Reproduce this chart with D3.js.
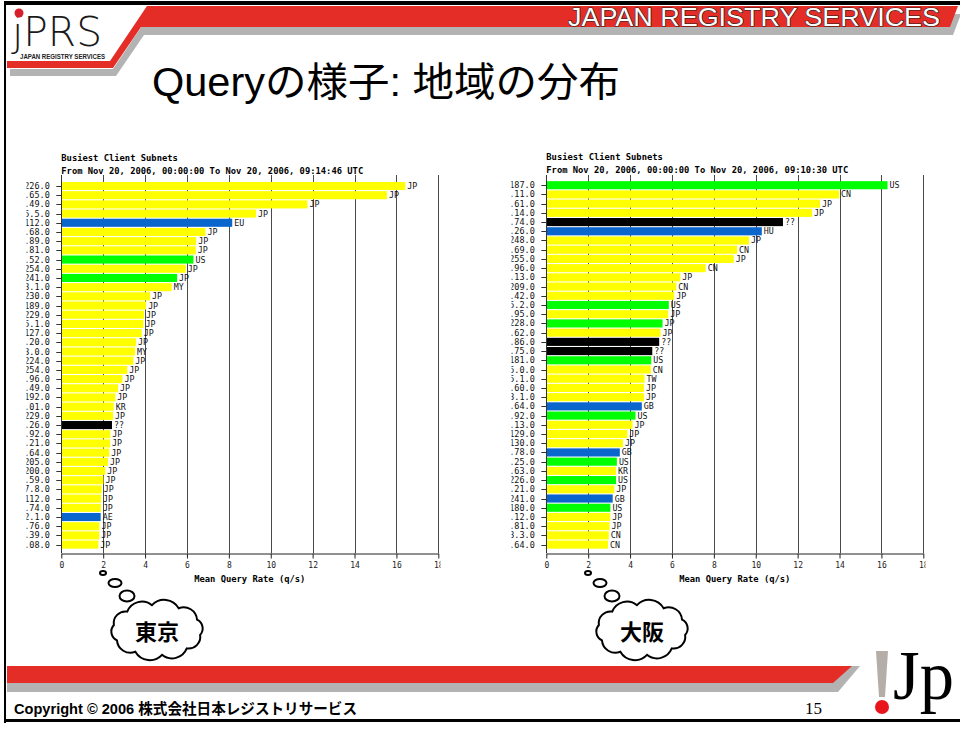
<!DOCTYPE html>
<html>
<head>
<meta charset="utf-8">
<script src="https://cdn.jsdelivr.net/npm/d3@7"></script>
<style>
  html, body { margin: 0; padding: 0; background: #fff; }
  svg { display: block; }
  .mono { font-family: "DejaVu Sans Mono", "Liberation Mono", monospace; }
</style>
</head>
<body>
<svg id="slide" width="960" height="731"></svg>
<script>
(function () {
    'use strict';

    // ---- data: Tokyo (left chart) ----
    const tokyoSubnets = ['226.0', '.65.0', '.49.0', '5.5.0', '112.0', '.68.0', '.89.0', '.81.0', '.52.0', '254.0',
        '241.0', '3.1.0', '230.0', '189.0', '229.0', '5.1.0', '127.0', '.20.0', '3.0.0', '224.0',
        '254.0', '.96.0', '.49.0', '192.0', '.01.0', '229.0', '.26.0', '.92.0', '.21.0', '.64.0',
        '205.0', '200.0', '.59.0', '7.8.0', '112.0', '.74.0', '2.1.0', '.76.0', '.39.0', '.08.0'];
    const tokyoRates = [16.42, 15.55, 11.75, 9.30, 8.16, 6.88, 6.44, 6.42, 6.31, 5.94,
        5.53, 5.27, 4.24, 4.05, 3.95, 3.92, 3.84, 3.57, 3.52, 3.44,
        3.15, 2.92, 2.71, 2.58, 2.50, 2.47, 2.42, 2.34, 2.33, 2.29,
        2.23, 2.10, 2.01, 1.93, 1.90, 1.89, 1.88, 1.82, 1.81, 1.77];
    const tokyoCountries = ['JP', 'JP', 'JP', 'JP', 'EU', 'JP', 'JP', 'JP', 'US', 'JP',
        'JP', 'MY', 'JP', 'JP', 'JP', 'JP', 'JP', 'JP', 'MY', 'JP',
        'JP', 'JP', 'JP', 'JP', 'KR', 'JP', '??', 'JP', 'JP', 'JP',
        'JP', 'JP', 'JP', 'JP', 'JP', 'JP', 'AE', 'JP', 'JP', 'JP'];
    const tokyoRegistries = ['APNIC', 'APNIC', 'APNIC', 'APNIC', 'RIPE', 'APNIC', 'APNIC', 'APNIC', 'ARIN', 'APNIC',
        'ARIN', 'APNIC', 'APNIC', 'APNIC', 'APNIC', 'APNIC', 'APNIC', 'APNIC', 'APNIC', 'APNIC',
        'APNIC', 'APNIC', 'APNIC', 'APNIC', 'APNIC', 'APNIC', '??', 'APNIC', 'APNIC', 'APNIC',
        'APNIC', 'APNIC', 'APNIC', 'APNIC', 'APNIC', 'APNIC', 'RIPE', 'APNIC', 'APNIC', 'APNIC'];

    // ---- data: Osaka (right chart) ----
    const osakaSubnets = ['187.0', '.11.0', '.61.0', '.14.0', '.74.0', '.26.0', '248.0', '.69.0', '255.0', '.96.0',
        '.13.0', '209.0', '.42.0', '5.2.0', '.95.0', '228.0', '.62.0', '.86.0', '.75.0', '181.0',
        '5.0.0', '5.1.0', '.60.0', '3.1.0', '.64.0', '.92.0', '.13.0', '129.0', '130.0', '.78.0',
        '.25.0', '.63.0', '226.0', '.21.0', '241.0', '180.0', '.12.0', '.81.0', '3.3.0', '.64.0'];
    const osakaRates = [16.29, 13.98, 13.07, 12.69, 11.30, 10.29, 9.68, 9.11, 8.95, 7.61,
        6.40, 6.21, 6.11, 5.85, 5.82, 5.55, 5.45, 5.39, 5.06, 5.01,
        4.99, 4.69, 4.66, 4.66, 4.56, 4.26, 4.12, 3.87, 3.66, 3.51,
        3.37, 3.33, 3.33, 3.25, 3.17, 3.06, 3.05, 3.02, 2.98, 2.95];
    const osakaCountries = ['US', 'CN', 'JP', 'JP', '??', 'HU', 'JP', 'CN', 'JP', 'CN',
        'JP', 'CN', 'JP', 'US', 'JP', 'JP', 'JP', '??', '??', 'US',
        'CN', 'TW', 'JP', 'JP', 'GB', 'US', 'JP', 'JP', 'JP', 'GB',
        'US', 'KR', 'US', 'JP', 'GB', 'US', 'JP', 'JP', 'CN', 'CN'];
    const osakaRegistries = ['ARIN', 'APNIC', 'APNIC', 'APNIC', '??', 'RIPE', 'APNIC', 'APNIC', 'APNIC', 'APNIC',
        'APNIC', 'APNIC', 'APNIC', 'ARIN', 'APNIC', 'ARIN', 'APNIC', '??', '??', 'ARIN',
        'APNIC', 'APNIC', 'APNIC', 'APNIC', 'RIPE', 'ARIN', 'APNIC', 'APNIC', 'APNIC', 'RIPE',
        'ARIN', 'APNIC', 'ARIN', 'APNIC', 'RIPE', 'ARIN', 'APNIC', 'APNIC', 'APNIC', 'APNIC'];

    const xTicks = [0, 2, 4, 6, 8, 10, 12, 14, 16, 18];

    const registryColor = d3.scaleOrdinal()
        .domain(['APNIC', 'ARIN', 'RIPE', '??'])
        .range(['#ffff00', '#00ff00', '#0a66cc', '#000000']);

    const svg = d3.select('#slide');
    const defs = svg.append('defs');

    // ---- slide frame and header ----
    svg.append('rect').attr('x', 4).attr('y', 1).attr('width', 956).attr('height', 4).attr('fill', '#000');
    svg.append('rect').attr('x', 4).attr('y', 1).attr('width', 2).attr('height', 722).attr('fill', '#000');
    svg.append('rect').attr('x', 4).attr('y', 719).attr('width', 956).attr('height', 3).attr('fill', '#000');

    const header = [[147, 6], [958, 6], [950, 27], [141, 27], [113, 68], [7, 68], [7, 61], [110, 61]];
    svg.append('polygon')
        .attr('points', header.map(p => [p[0] + 3, p[1] + 8]).join(' '))
        .attr('fill', '#b3b3b3');
    svg.append('polygon')
        .attr('points', header.join(' '))
        .attr('fill', '#e52d27');

    svg.append('text')
        .attr('x', 568).attr('y', 26)
        .attr('textLength', 372).attr('lengthAdjust', 'spacingAndGlyphs')
        .style('font-family', '"Liberation Sans", Arial, sans-serif')
        .style('font-size', '25px')
        .attr('fill', '#fff').attr('stroke', '#222').attr('stroke-width', 1.2)
        .attr('paint-order', 'stroke')
        .text('JAPAN REGISTRY SERVICES');

    // logo
    svg.append('text')
        .attr('x', 12).attr('y', 46)
        .attr('textLength', 90).attr('lengthAdjust', 'spacingAndGlyphs')
        .style('font-family', '"DejaVu Sans", sans-serif')
        .style('font-size', '40px').style('font-weight', 200)
        .attr('fill', '#1a1a1a')
        .text('jPRS');
    svg.append('circle').attr('cx', 19).attr('cy', 13).attr('r', 4.5).attr('fill', '#d6202a');
    svg.append('rect').attr('x', 18).attr('y', 52).attr('width', 89).attr('height', 8).attr('fill', '#fff');
    svg.append('text')
        .attr('x', 20).attr('y', 58.5)
        .attr('textLength', 85).attr('lengthAdjust', 'spacingAndGlyphs')
        .style('font-family', '"Liberation Sans", sans-serif')
        .style('font-size', '6.3px').style('font-weight', 'bold')
        .attr('fill', '#222')
        .text('JAPAN REGISTRY SERVICES');

    // title
    svg.append('text')
        .attr('x', 152).attr('y', 96)
        .attr('textLength', 468).attr('lengthAdjust', 'spacingAndGlyphs')
        .style('font-family', '"Liberation Sans", "Noto Sans CJK JP", sans-serif')
        .style('font-size', '40px')
        .attr('fill', '#000')
        .text('Queryの様子: 地域の分布');

    // ---- charts ----
    const drawChart = (opt) => {
        const clipId = 'clip-' + opt.id;
        defs.append('clipPath').attr('id', clipId)
            .append('rect')
            .attr('x', opt.clipLeft).attr('y', 140)
            .attr('width', opt.clipRight - opt.clipLeft).attr('height', 460);

        const g = svg.append('g').attr('clip-path', `url(#${clipId})`);

        const x = d3.scaleLinear()
            .domain([0, 18])
            .range([opt.x0, opt.x0 + 377]);

        const y = d3.scaleBand()
            .domain(d3.range(opt.rates.length))
            .range([opt.barTop, opt.barBottom])
            .paddingInner(0.12)
            .paddingOuter(0.06);

        const gridTop = 175;
        const axisY = 553;

        g.append('text').attr('class', 'mono')
            .attr('x', opt.x0).attr('y', opt.titleY)
            .style('font-size', '8.8px').style('font-weight', 'bold')
            .text('Busiest Client Subnets');
        g.append('text').attr('class', 'mono')
            .attr('x', opt.x0).attr('y', opt.titleY + 12.5)
            .style('font-size', '8.8px').style('font-weight', 'bold')
            .text(opt.period);

        // grid
        g.append('g').selectAll('line')
            .data(xTicks.filter(t => t > 0))
            .join('line')
            .attr('x1', d => Math.round(x(d)) + 0.5).attr('x2', d => Math.round(x(d)) + 0.5)
            .attr('y1', gridTop).attr('y2', axisY)
            .attr('stroke', '#4a4a4a').attr('stroke-width', 1);

        // bars
        g.append('g').selectAll('rect')
            .data(opt.rates)
            .join('rect')
            .attr('x', x(0))
            .attr('y', (d, i) => y(i))
            .attr('width', d => x(d) - x(0))
            .attr('height', y.bandwidth())
            .attr('fill', (d, i) => registryColor(opt.registries[i]));

        // country labels
        g.append('g').selectAll('text')
            .data(opt.rates)
            .join('text')
            .attr('class', 'mono')
            .attr('x', d => x(d) + 2)
            .attr('y', (d, i) => y(i) + y.bandwidth() / 2 + 3)
            .style('font-size', '8.3px')
            .attr('fill', '#111')
            .text((d, i) => opt.countries[i]);

        // left axis: vertical line, tick marks and subnet labels
        g.append('line')
            .attr('x1', Math.round(x(0)) + 0.5).attr('x2', Math.round(x(0)) + 0.5)
            .attr('y1', gridTop).attr('y2', axisY)
            .attr('stroke', '#333');
        g.append('g').selectAll('line')
            .data(opt.rates)
            .join('line')
            .attr('x1', x(0) - 5).attr('x2', x(0))
            .attr('y1', (d, i) => Math.round(y(i) + y.bandwidth() / 2) + 0.5)
            .attr('y2', (d, i) => Math.round(y(i) + y.bandwidth() / 2) + 0.5)
            .attr('stroke', '#333');
        g.append('g').selectAll('text')
            .data(opt.subnets)
            .join('text')
            .attr('class', 'mono')
            .attr('x', x(0) - 11.5)
            .attr('y', (d, i) => y(i) + y.bandwidth() / 2 + 3)
            .attr('text-anchor', 'end')
            .style('font-size', '8.5px')
            .attr('fill', '#111')
            .text(d => d);

        // bottom axis
        const axis = g.append('g')
            .attr('transform', `translate(0,${axisY + 0.5})`)
            .call(d3.axisBottom(x).tickValues(xTicks).tickSize(5).tickSizeOuter(0).tickFormat(d3.format('d')));
        axis.select('.domain').attr('stroke', '#222');
        axis.selectAll('.tick line').attr('stroke', '#222');
        axis.selectAll('.tick text')
            .attr('class', 'mono')
            .attr('y', 9)
            .style('font-size', '8px')
            .attr('fill', '#222');

        g.append('text').attr('class', 'mono')
            .attr('x', (x(0) + x(18)) / 2).attr('y', 582)
            .attr('text-anchor', 'middle')
            .style('font-size', '8.8px').style('font-weight', 'bold')
            .text('Mean Query Rate (q/s)');
    };

    drawChart({
        id: 'tokyo', x0: 61.3, barTop: 181.4, barBottom: 549.2, titleY: 161,
        clipLeft: 26.5, clipRight: 440.5,
        period: 'From Nov 20, 2006, 00:00:00 To Nov 20, 2006, 09:14:46 UTC',
        subnets: tokyoSubnets, rates: tokyoRates, countries: tokyoCountries, registries: tokyoRegistries
    });
    drawChart({
        id: 'osaka', x0: 546.3, barTop: 180.6, barBottom: 549.2, titleY: 160,
        clipLeft: 511.5, clipRight: 925.5,
        period: 'From Nov 20, 2006, 00:00:00 To Nov 20, 2006, 09:10:30 UTC',
        subnets: osakaSubnets, rates: osakaRates, countries: osakaCountries, registries: osakaRegistries
    });

    // ---- thought clouds ----
    const cloudPath = (cx, cy, rx, ry, n) => {
        const pts = d3.range(n).map(i => {
            const a = (i / n) * 2 * Math.PI + 0.2;
            return [cx + rx * Math.cos(a), cy + ry * Math.sin(a)];
        });
        let d = `M${pts[0]}`;
        pts.forEach((p, i) => {
            const q = pts[(i + 1) % n];
            const r = Math.hypot(q[0] - p[0], q[1] - p[1]) * 0.62;
            d += `A${r},${r} 0 0 1 ${q}`;
        });
        return d + 'Z';
    };

    const drawCloud = (dx, label) => {
        const c = svg.append('g').attr('transform', `translate(${dx},0)`);
        c.append('ellipse').attr('cx', 103).attr('cy', 573).attr('rx', 3).attr('ry', 2)
            .attr('fill', '#fff').attr('stroke', '#000').attr('stroke-width', 2);
        c.append('ellipse').attr('cx', 115).attr('cy', 583).attr('rx', 6.5).attr('ry', 4)
            .attr('fill', '#fff').attr('stroke', '#000').attr('stroke-width', 2);
        c.append('ellipse').attr('cx', 127).attr('cy', 596).attr('rx', 7.5).attr('ry', 5.5)
            .attr('fill', '#fff').attr('stroke', '#000').attr('stroke-width', 2);
        c.append('path')
            .attr('d', cloudPath(157, 630, 44, 25, 10))
            .attr('fill', '#fff').attr('stroke', '#000').attr('stroke-width', 2);
        c.append('text')
            .attr('x', 157).attr('y', 640)
            .attr('text-anchor', 'middle')
            .style('font-family', '"Noto Sans CJK JP", sans-serif')
            .style('font-size', '22px').style('font-weight', 'bold')
            .text(label);
    };
    drawCloud(0, '東京');
    drawCloud(485, '大阪');

    // ---- footer ----
    svg.append('polygon')
        .attr('points', [[7, 666], [860, 666], [838, 692], [7, 692]].join(' '))
        .attr('fill', '#b3b3b3');
    svg.append('polygon')
        .attr('points', [[7, 666], [852, 666], [833, 683], [7, 683]].join(' '))
        .attr('fill', '#e52d27');

    svg.append('text')
        .attr('x', 14).attr('y', 714)
        .attr('textLength', 343).attr('lengthAdjust', 'spacingAndGlyphs')
        .style('font-family', '"Liberation Sans", "Noto Sans CJK JP", sans-serif')
        .style('font-size', '15px').style('font-weight', 'bold')
        .text('Copyright © 2006 株式会社日本レジストリサービス');

    svg.append('text')
        .attr('x', 805).attr('y', 714)
        .style('font-family', '"Liberation Serif", serif')
        .style('font-size', '17px')
        .text('15');

    // !Jp mark
    svg.append('polygon')
        .attr('points', [[876, 651], [888, 651], [885, 697], [879, 697]].join(' '))
        .attr('fill', '#b5aea8');
    svg.append('circle').attr('cx', 882).attr('cy', 707).attr('r', 7).attr('fill', '#e8161c');
    svg.append('text')
        .attr('x', 893).attr('y', 699)
        .attr('textLength', 61).attr('lengthAdjust', 'spacingAndGlyphs')
        .style('font-family', '"Liberation Serif", serif')
        .style('font-size', '70px')
        .attr('fill', '#000')
        .text('Jp');
})();
</script>
</body>
</html>
